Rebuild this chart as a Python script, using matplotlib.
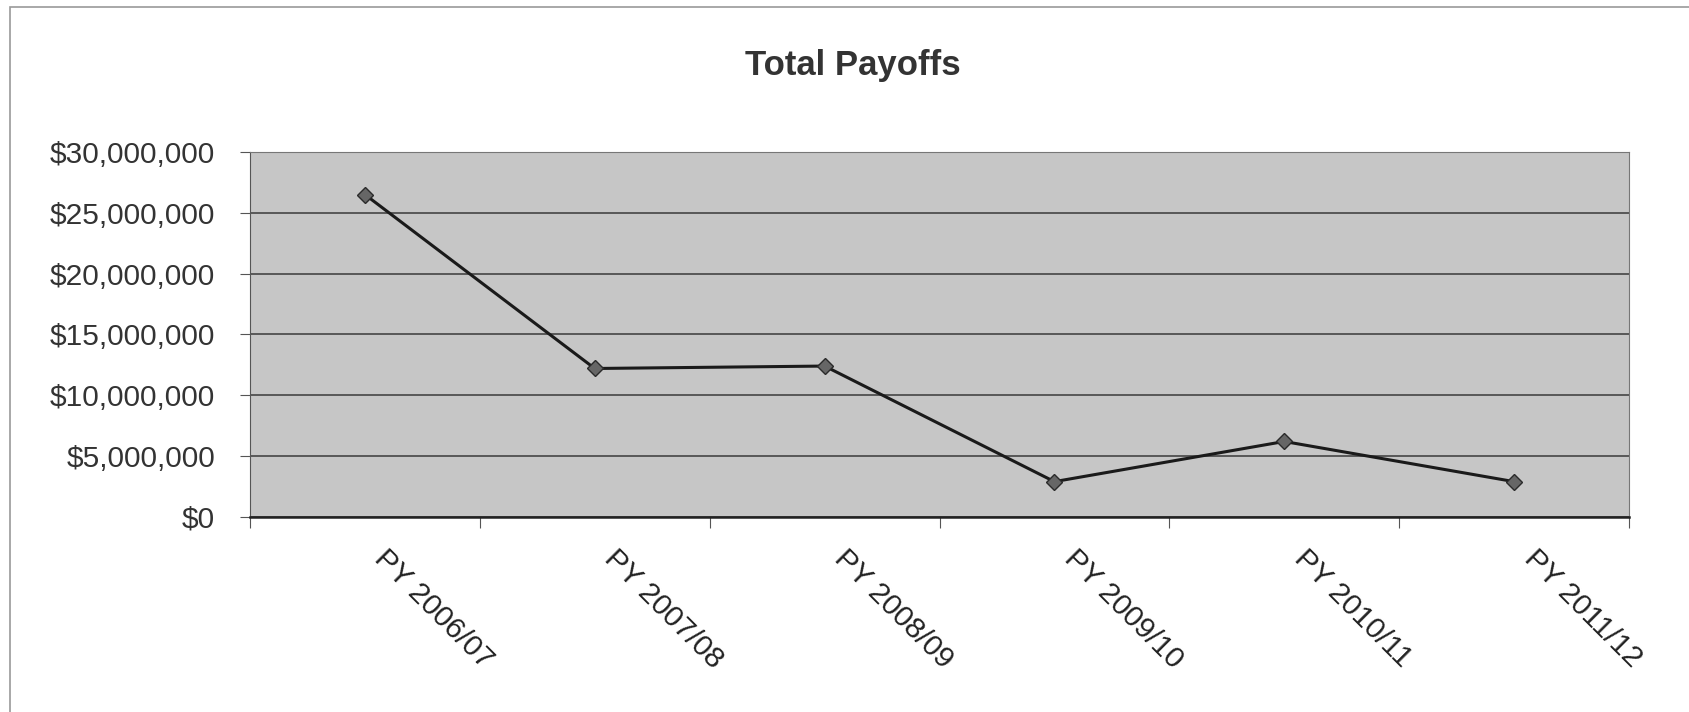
import numpy as np
import matplotlib.pyplot as plt
from matplotlib.ticker import FuncFormatter
from matplotlib.patches import Rectangle
from matplotlib.transforms import ScaledTranslation

# Data
years = ["PY 2006/07", "PY 2007/08", "PY 2008/09", "PY 2009/10", "PY 2010/11", "PY 2011/12"]
payoffs = [26500000, 12200000, 12400000, 2900000, 6200000, 2900000]
y_ticks = [0, 5000000, 10000000, 15000000, 20000000, 25000000, 30000000]

plt.rcParams['font.family'] = ['Liberation Sans', 'DejaVu Sans']

fig = plt.figure(figsize=(16.89, 7.12), dpi=100)
ax = fig.add_axes([0.148, 0.274, 0.8165, 0.5126])

# chart frame (scanned page border)
fig.patches.append(Rectangle((0.006, -0.05), 1.2, 1.04, transform=fig.transFigure,
                             fill=False, edgecolor='#9a9a9a', linewidth=1.2))

ax.set_facecolor('#c6c6c6')
x = np.arange(len(years))
ax.plot(x, payoffs, color='#1a1a1a', linewidth=2.2, marker='D', markersize=8,
        markerfacecolor='#666666', markeredgecolor='#2a2a2a', zorder=3)

ax.set_xlim(-0.5, len(years) - 0.5)
ax.set_ylim(0, 30000000)
ax.set_yticks(y_ticks)
ax.yaxis.set_major_formatter(FuncFormatter(lambda v, p: "${:,.0f}".format(v)))
ax.grid(axis='y', color='#3a3a3a', linewidth=1.1)
ax.set_axisbelow(True)

# category boundaries get the tick marks, labels sit in between
ax.set_xticks(np.arange(len(years) + 1) - 0.5, minor=False)
ax.set_xticklabels([])
ax.set_xticks(x, minor=True)
ax.set_xticklabels(years, minor=True, rotation=-45, ha='left', va='top',
                   rotation_mode='anchor', fontsize=21.5, color='#222222')
ax.tick_params(axis='x', which='minor', length=0, pad=20)
ax.tick_params(axis='x', which='major', length=8, color='#555555', direction='out')
ax.tick_params(axis='y', length=7, color='#555555', labelsize=21.5, labelcolor='#333333', pad=18)

# nudge the slanted labels to the right (after tick_params, which resets transforms)
shift = ScaledTranslation(0.24, 0, fig.dpi_scale_trans)
for lbl in ax.get_xticklabels(minor=True):
    lbl.set_transform(lbl.get_transform() + shift)

for side in ['top', 'right']:
    ax.spines[side].set_color('#777777')
    ax.spines[side].set_linewidth(0.8)
ax.spines['left'].set_color('#555555')
ax.spines['bottom'].set_color('#222222')
ax.spines['bottom'].set_linewidth(1.8)

fig.text(0.505, 0.895, "Total Payoffs", ha='center', va='baseline',
         fontsize=25, fontweight='bold', color='#333333')

fig.savefig("out.png", dpi=100)
